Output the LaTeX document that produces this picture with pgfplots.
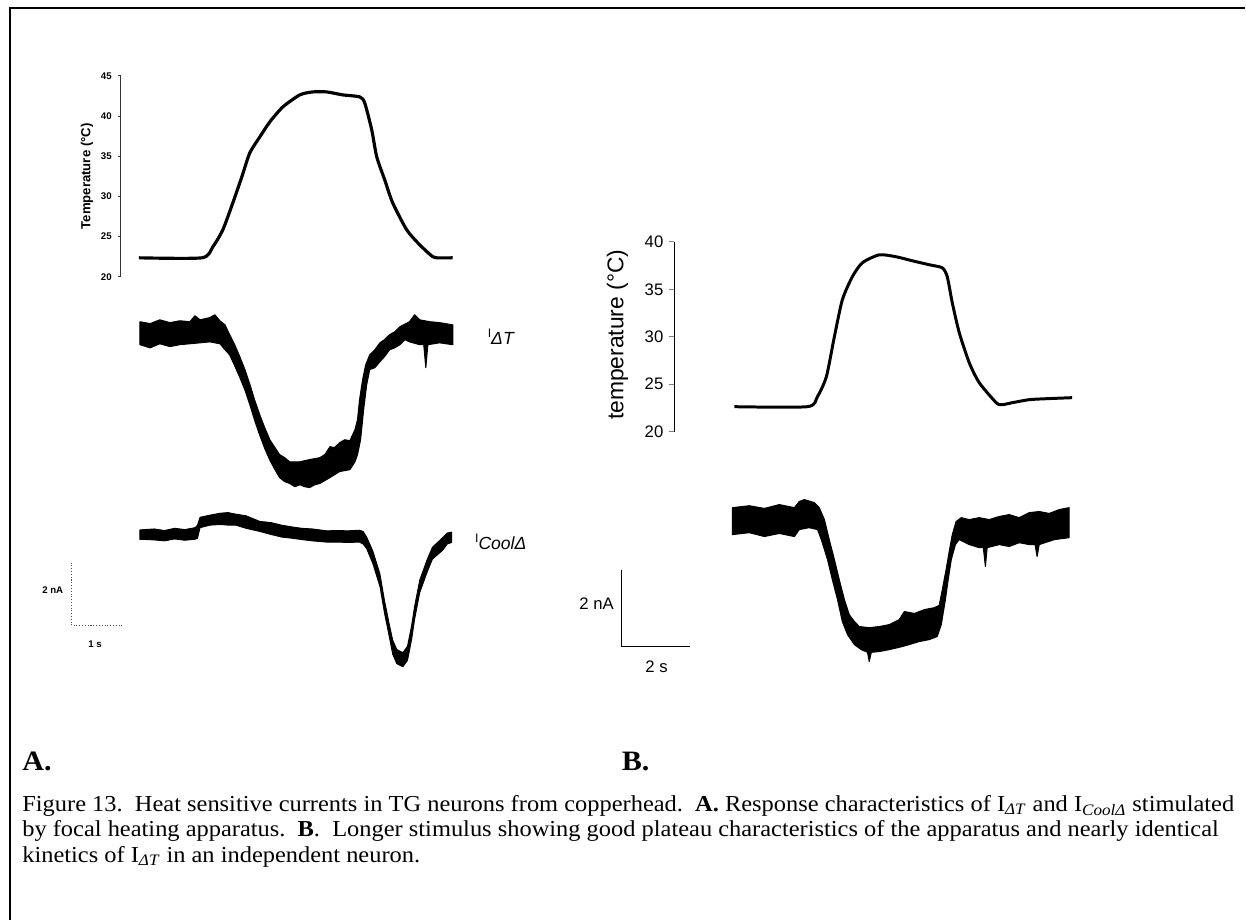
\documentclass[border=0pt]{standalone}
\usepackage{fontspec}
\setmainfont{Liberation Serif}[FakeStretch=1.07]
\setsansfont{Liberation Sans}
\usepackage{pgfplots}
\pgfplotsset{compat=1.18}
\newcommand{\ilab}[1]{{\fontsize{7}{7}\selectfont I}\raisebox{-1.4mm}{\fontsize{10}{10}\selectfont\itshape #1}}
\pgfplotsset{
  trace/.style={hide axis, clip=false, enlargelimits=false, anchor=south west},
  band/.style={fill=black, draw=black, line width=0.6pt, line join=round},
  tempaxis/.style={clip=false, enlargelimits=false, anchor=south west,
    axis x line=none, axis y line*=left, xtick=\empty,
    y axis line style={-}, tick align=outside,
    /pgf/number format/assume math mode=true},
}
\begin{document}
\begin{tikzpicture}
\fill[white] (0,0) rectangle (249.2mm,184.2mm);
% frame
\draw[line width=1.1pt] (2mm,0mm) -- (2mm,182.6mm) -- (249.2mm,182.6mm);

% ---------- Panel A: temperature ----------
\begin{axis}[tempaxis, at={(24.2mm,128.8mm)}, x=10.2mm, y=1.608mm,
  xmin=-0.353, xmax=6.3, ymin=20, ymax=45, ytick={20,25,...,45},
  major tick length=0.6mm, y axis line style={line width=0.5pt, black!80},
  tick style={line width=0.5pt, black!80},
  yticklabel style={font=\sffamily\bfseries\fontsize{5.5}{6}\selectfont}]
\addplot[black, line width=1.8pt, line join=round, smooth, tension=0.4] coordinates {
(0,22.36) (1.235,22.36) (1.451,23.73) (1.647,25.85) (1.843,29.2) (2.020,32.44)
(2.176,35.42) (2.373,37.41) (2.569,39.28) (2.824,41.14) (3.157,42.64) (3.412,43.01)
(3.686,43.01) (4.0,42.64) (4.333,42.39) (4.431,41.64) (4.569,38.28) (4.667,34.93)
(4.824,32.06) (4.980,29.2) (5.255,25.85) (5.510,23.98) (5.765,22.49) (5.843,22.36)
(6.157,22.36)};
\node[rotate=90, font=\sffamily\bfseries\fontsize{7.5}{8}\selectfont] at (axis cs:-1.02,32.5) {Temperature (°C)};
\end{axis}

% ---------- Panel A: I_DeltaT (noise band: upper edge, then lower edge back) ----------
\begin{axis}[trace, at={(12.5mm,86.1mm)}, x=10.2mm, y=6.3mm,
  xmin=-1.5, xmax=7.5, ymin=-5, ymax=1]
\addplot[band] coordinates {
(0.02,0.35) (0.22,0.29) (0.41,0.41) (0.61,0.32) (0.80,0.38) (1.00,0.35) (1.10,0.54)
(1.20,0.41) (1.39,0.48) (1.49,0.57) (1.59,0.38) (1.69,0.25) (1.78,-0.06) (1.88,-0.38)
(1.98,-0.76) (2.08,-1.17) (2.18,-1.65) (2.27,-2.13) (2.37,-2.60) (2.47,-3.02)
(2.57,-3.40) (2.67,-3.65) (2.76,-3.87) (2.86,-3.97) (2.96,-4.10) (3.16,-4.10)
(3.35,-4.03) (3.55,-3.97) (3.65,-3.87) (3.75,-3.62) (3.84,-3.65) (3.94,-3.49)
(4.04,-3.40) (4.14,-3.43) (4.24,-3.08) (4.29,-2.76) (4.33,-2.13) (4.39,-1.49)
(4.45,-1.02) (4.53,-0.70) (4.63,-0.54) (4.73,-0.32) (4.82,-0.22) (4.92,-0.06)
(5.02,0.03) (5.12,0.19) (5.31,0.35) (5.41,0.57) (5.51,0.41) (5.71,0.35) (5.90,0.32)
(6.16,0.25)
(6.16,-0.38) (5.90,-0.32) (5.67,-0.38) (5.63,-1.11) (5.59,-0.38) (5.51,-0.38)
(5.31,-0.29) (5.22,-0.22) (5.12,-0.38) (5.02,-0.48) (4.92,-0.54) (4.82,-0.76)
(4.73,-0.92) (4.63,-1.11) (4.53,-1.17) (4.47,-1.65) (4.41,-2.44) (4.35,-3.40)
(4.29,-3.87) (4.24,-4.10) (4.14,-4.35) (3.94,-4.41) (3.75,-4.60) (3.55,-4.79)
(3.45,-4.83) (3.35,-4.92) (3.25,-4.89) (3.16,-4.83) (3.06,-4.89) (2.96,-4.79)
(2.86,-4.73) (2.76,-4.60) (2.67,-4.35) (2.57,-4.05) (2.47,-3.68) (2.37,-3.25)
(2.27,-2.78) (2.18,-2.30) (2.08,-1.82) (1.98,-1.42) (1.88,-1.05) (1.78,-0.70)
(1.69,-0.54) (1.59,-0.35) (1.39,-0.29) (1.20,-0.32) (1.00,-0.35) (0.80,-0.38)
(0.61,-0.44) (0.41,-0.35) (0.22,-0.48) (0.02,-0.38) (0.02,0.35)};
\node[anchor=base west, inner sep=0pt, font=\sffamily] at (axis cs:6.84,-0.16) {\ilab{ΔT}};
\end{axis}

% ---------- Panel A: I_CoolDelta ----------
\begin{axis}[trace, at={(12.5mm,45.7mm)}, x=10.2mm, y=6.3mm,
  xmin=-1.5, xmax=7.5, ymin=-5, ymax=1]
\addplot[band, line width=0.5pt] coordinates {
(0.02,0.15) (0.3,0.18) (0.5,0.13) (0.7,0.2) (0.9,0.16) (1.1,0.22) (1.15,0.3)
(1.2,0.55) (1.4,0.62) (1.6,0.68) (1.75,0.7) (1.9,0.65) (2.1,0.6) (2.37,0.42)
(2.6,0.38) (2.8,0.3) (3.02,0.24) (3.2,0.2) (3.4,0.18) (3.69,0.12) (3.9,0.13)
(4.1,0.12) (4.33,0.14) (4.40,0.10) (4.47,-0.08) (4.59,-0.52) (4.73,-1.25)
(4.82,-2.1) (4.92,-2.9) (4.98,-3.35) (5.06,-3.65) (5.18,-3.75) (5.27,-3.55)
(5.35,-2.9) (5.41,-2.28) (5.51,-1.45) (5.65,-0.82) (5.76,-0.40) (5.96,-0.10)
(6.05,0.05) (6.14,0.08)
(6.14,-0.25) (6.05,-0.3) (5.96,-0.5) (5.76,-0.78) (5.65,-1.22) (5.51,-1.85)
(5.41,-2.7) (5.35,-3.35) (5.27,-4.0) (5.18,-4.2) (5.06,-4.1) (4.98,-3.8)
(4.92,-3.3) (4.82,-2.5) (4.73,-1.65) (4.59,-0.92) (4.47,-0.45) (4.40,-0.3)
(4.33,-0.24) (4.1,-0.25) (3.9,-0.24) (3.69,-0.24) (3.4,-0.2) (3.2,-0.16)
(3.02,-0.12) (2.8,-0.08) (2.6,0.0) (2.37,0.1) (2.1,0.2) (1.9,0.3) (1.75,0.3)
(1.6,0.32) (1.4,0.3) (1.2,0.22) (1.15,-0.12) (1.1,-0.15) (0.9,-0.18) (0.7,-0.14)
(0.5,-0.2) (0.3,-0.17) (0.02,-0.15) (0.02,0.15)};
\node[anchor=base west, inner sep=0pt, font=\sffamily] at (axis cs:6.59,-0.25) {\ilab{CoolΔ}};
% scale bar A
\addplot[black!70, line width=0.6pt, densely dotted] coordinates {(-1.314,-0.89) (-1.314,-2.89) (-0.314,-2.89)};
\node[font=\sffamily\bfseries\fontsize{5.5}{6}\selectfont] at (axis cs:-1.69,-1.78) {2 nA};
\node[font=\sffamily\bfseries\fontsize{5.5}{6}\selectfont] at (axis cs:-0.86,-3.49) {1 s};
\end{axis}

% ---------- Panel B: temperature ----------
\begin{axis}[tempaxis, at={(135mm,97.8mm)}, x=6.9mm, y=1.9mm,
  xmin=-1.739, xmax=10, ymin=20, ymax=40, ytick={20,25,...,40},
  major tick length=1mm, y axis line style={line width=0.6pt},
  tick style={line width=0.6pt},
  yticklabel style={font=\sffamily\fontsize{9.5}{10}\selectfont}]
\addplot[black, line width=1.7pt, line join=round, smooth, tension=0.4] coordinates {
(0,22.63) (2.116,22.63) (2.406,23.68) (2.667,25.79) (2.899,30.0) (3.130,33.89)
(3.420,36.32) (3.710,37.79) (4.203,38.63) (4.696,38.42) (5.159,38.0) (5.652,37.58)
(6.029,37.26) (6.174,36.32) (6.319,33.58) (6.522,30.42) (6.812,27.26) (7.101,25.16)
(7.594,23.05) (7.768,22.84) (8.058,23.05) (8.551,23.37) (9.043,23.47) (9.797,23.58)};
\node[rotate=90, font=\sffamily\fontsize{13}{14}\selectfont] at (axis cs:-3.39,30.2) {temperature (°C)};
\end{axis}

% ---------- Panel B: current ----------
\begin{axis}[trace, at={(122.85mm,49.4mm)}, x=6.9mm, y=7.7mm,
  xmin=-3.5, xmax=10, ymin=-4, ymax=1]
\addplot[band] coordinates {
(-0.06,0.31) (0.43,0.36) (0.87,0.29) (1.30,0.39) (1.74,0.31) (1.88,0.47) (2.03,0.52)
(2.32,0.44) (2.46,0.31) (2.61,0) (2.75,-0.52) (2.90,-1.04) (3.04,-1.56) (3.19,-2.08)
(3.33,-2.47) (3.48,-2.65) (3.62,-2.78) (3.91,-2.81) (4.20,-2.78) (4.49,-2.73)
(4.78,-2.60) (4.93,-2.39) (5.22,-2.44) (5.51,-2.34) (5.80,-2.29) (5.94,-2.23)
(6.03,-1.82) (6.14,-1.30) (6.23,-0.83) (6.32,-0.39) (6.43,-0.05) (6.58,0.05)
(6.81,0) (7.10,0.05) (7.39,0) (7.68,0.08) (7.97,0.13) (8.26,0.05) (8.55,0.18)
(8.84,0.21) (9.13,0.16) (9.42,0.26) (9.71,0.31)
(9.71,-0.47) (9.28,-0.52) (8.84,-0.65) (8.78,-0.96) (8.72,-0.65) (8.55,-0.65)
(8.26,-0.60) (7.97,-0.70) (7.68,-0.65) (7.33,-0.73) (7.28,-1.22) (7.22,-0.73)
(7.10,-0.73) (6.81,-0.65) (6.52,-0.52) (6.41,-0.65) (6.29,-1.04) (6.20,-1.56)
(6.12,-2.08) (6.00,-2.73) (5.88,-3.04) (5.65,-3.12) (5.36,-3.17) (5.07,-3.25)
(4.78,-3.32) (4.49,-3.38) (4.20,-3.43) (3.97,-3.45) (3.91,-3.69) (3.86,-3.45)
(3.68,-3.38) (3.48,-3.25) (3.28,-2.99) (3.13,-2.65) (2.99,-2.08) (2.84,-1.56)
(2.70,-1.04) (2.52,-0.52) (2.41,-0.26) (2.17,-0.21) (1.88,-0.26) (1.74,-0.44)
(1.30,-0.36) (0.87,-0.44) (0.43,-0.34) (-0.06,-0.39) (-0.06,0.31)};
% scale bar B
\addplot[black, line width=0.7pt] coordinates {(-3.275,-1.30) (-3.275,-3.30) (-1.275,-3.30)};
\node[font=\sffamily\fontsize{9.5}{10}\selectfont] at (axis cs:-4.0,-2.18) {2 nA};
\node[font=\sffamily\fontsize{9.5}{10}\selectfont] at (axis cs:-2.26,-3.82) {2 s};
\end{axis}

% panel letters
\node[anchor=base west, inner sep=0pt] at (4.4mm,30mm) {\fontsize{16}{16}\selectfont\bfseries A.};
\node[anchor=base west, inner sep=0pt] at (124.4mm,30mm) {\fontsize{16}{16}\selectfont\bfseries B.};
% caption
\node[anchor=base west, inner sep=0pt] at (4.4mm,21.8mm) {\parbox[t]{244mm}{\raggedright\fontsize{13}{14.5}\selectfont
Figure 13.\ \ Heat sensitive currents in TG neurons from copperhead.\ \ \textbf{A.} Response characteristics of I\textsubscript{\textit{ΔT}} and I\textsubscript{\textit{CoolΔ}} stimulated\\
by focal heating apparatus.\ \ \textbf{B}.\ \ Longer stimulus showing good plateau characteristics of the apparatus and nearly identical\\
kinetics of I\textsubscript{\textit{ΔT}} in an independent neuron.}};
\end{tikzpicture}
\end{document}
